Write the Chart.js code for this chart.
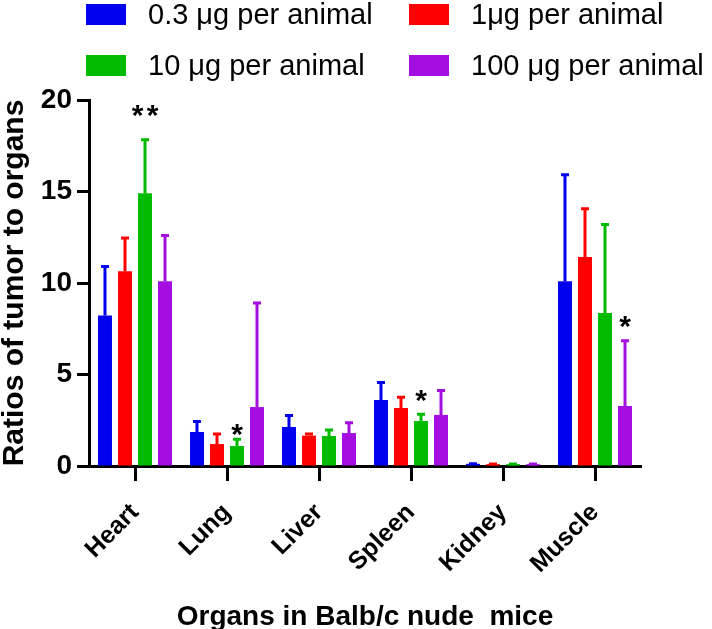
<!DOCTYPE html>
<html>
<head>
<meta charset="utf-8">
<script src="https://cdn.jsdelivr.net/npm/chart.js@4/dist/chart.umd.min.js"></script>
<style>
  body { margin: 0; background: #fff; }
  #wrap { position: relative; width: 712px; height: 629px; font-family: "Liberation Sans", Arial, sans-serif; }
  #chart { position: absolute; left: 0; top: 0; }
  .lg { position: absolute; display: flex; align-items: center; font-size: 29px; color: #000; white-space: nowrap; height: 21px; }
  .lg .box { width: 40px; height: 21px; margin-right: 22px; flex: none; }
</style>
</head>
<body>
<div id="wrap">
  <canvas id="chart" width="712" height="629"></canvas>
  <div class="lg" style="left:86px; top:4px;"><span class="box" style="background:#0000ee"></span>0.3 μg per animal</div>
  <div class="lg" style="left:409px; top:4px;"><span class="box" style="background:#ff0000"></span>1μg per animal</div>
  <div class="lg" style="left:86px; top:55px;"><span class="box" style="background:#00bb00"></span>10 μg per animal</div>
  <div class="lg" style="left:409px; top:55px;"><span class="box" style="background:#a50ee0"></span>100 μg per animal</div>
</div>
<script>
// ─── Data ────────────────────────────────────────────────────────────────────
const organs = ["Heart", "Lung", "Liver", "Spleen", "Kidney", "Muscle"];
const seriesNames = ["0.3 μg per animal", "1μg per animal", "10 μg per animal", "100 μg per animal"];

const dose03    = [8.23, 1.86, 2.13, 3.60, 0.12, 10.10];
const dose03Err = [2.70, 0.60, 0.66, 0.99, 0.03, 5.84];
const dose1     = [10.64, 1.20, 1.66, 3.17, 0.10, 11.42];
const dose1Err  = [1.84, 0.57, 0.11, 0.62, 0.03, 2.66];
const dose10    = [14.90, 1.09, 1.64, 2.46, 0.10, 8.36];
const dose10Err = [2.95, 0.40, 0.36, 0.40, 0.03, 4.86];
const dose100   = [10.09, 3.22, 1.80, 2.79, 0.10, 3.28];
const dose100Err= [2.53, 5.71, 0.59, 1.36, 0.03, 3.59];

// significance marks: organ index, series index, text, y level of mark
const sigOrgan  = [0, 1, 3, 5];
const sigSeries = [2, 2, 2, 3];
const sigText   = ["**", "*", "*", "*"];
const sigLevel  = [19.56, 2.13, 3.99, 8.03];

const yTicks = [0, 5, 10, 15, 20];

const colors = ["#0000ee", "#ff0000", "#00bb00", "#a50ee0"];
const values = [dose03, dose1, dose10, dose100];
const errors = [dose03Err, dose1Err, dose10Err, dose100Err];

// ─── Plugins ─────────────────────────────────────────────────────────────────
const errorBars = {
  id: "errorBars",
  afterDatasetsDraw(chart) {
    const ctx = chart.ctx;
    const y = chart.scales.y;
    chart.data.datasets.forEach((ds, di) => {
      const meta = chart.getDatasetMeta(di);
      meta.data.forEach((bar, i) => {
        const top = y.getPixelForValue(ds.data[i] + ds.errors[i]);
        ctx.save();
        ctx.strokeStyle = ds.backgroundColor;
        ctx.lineWidth = 3;
        ctx.beginPath();
        ctx.moveTo(bar.x, bar.y);
        ctx.lineTo(bar.x, top);
        ctx.moveTo(bar.x - 4, top + 0.5);
        ctx.lineTo(bar.x + 4, top + 0.5);
        ctx.stroke();
        ctx.restore();
      });
    });
  }
};

const sigMarks = {
  id: "sigMarks",
  afterDatasetsDraw(chart) {
    const ctx = chart.ctx;
    const y = chart.scales.y;
    const size = 30;
    ctx.save();
    ctx.fillStyle = "#000";
    ctx.font = "bold " + size + "px 'Liberation Sans', Arial";
    ctx.textAlign = "center";
    ctx.textBaseline = "alphabetic";
    sigText.forEach((t, k) => {
      const bar = chart.getDatasetMeta(sigSeries[k]).data[sigOrgan[k]];
      const cy = y.getPixelForValue(sigLevel[k]);
      const n = t.length;
      for (let s = 0; s < n; s++) {
        const cx = bar.x + (s - (n - 1) / 2) * 15;
        ctx.fillText("*", cx, cy + size * 0.57);
      }
    });
    ctx.restore();
  }
};

// ─── Chart ───────────────────────────────────────────────────────────────────
new Chart(document.getElementById("chart"), {
  type: "bar",
  data: {
    labels: organs,
    datasets: values.map((v, i) => ({
      label: seriesNames[i],
      data: v,
      errors: errors[i],
      backgroundColor: colors[i],
      borderWidth: 0,
      categoryPercentage: 0.87,
      barPercentage: 0.7
    }))
  },
  options: {
    responsive: false,
    animation: false,
    layout: { padding: { top: 100, right: 71, left: 0, bottom: 0 } },
    plugins: { legend: { display: false }, tooltip: { enabled: false } },
    scales: {
      x: {
        afterFit: s => { s.height = 163; },
        border: { color: "#000", width: 3 },
        grid: { display: true, drawOnChartArea: false, offset: false, tickLength: 15, tickWidth: 3, tickColor: "#000" },
        ticks: { color: "#000", font: { family: "'Liberation Sans', Arial", size: 25, weight: "bold" },
                 minRotation: 45, maxRotation: 45, padding: 17 },
        title: { display: true, text: "Organs in Balb/c nude  mice", color: "#000",
                 font: { family: "'Liberation Sans', Arial", size: 28, weight: "bold", lineHeight: 0.86 },
                 padding: { top: 0, bottom: 0 } }
      },
      y: {
        min: 0, max: 20,
        afterFit: s => { s.width = 89; },
        afterBuildTicks: s => { s.ticks = yTicks.map(v => ({ value: v })); },
        border: { color: "#000", width: 3 },
        grid: { display: true, drawOnChartArea: false, tickLength: 12, tickWidth: 3, tickColor: "#000" },
        ticks: { color: "#000", font: { family: "'Liberation Sans', Arial", size: 28, weight: "bold" }, padding: 5 },
        title: { display: true, text: "Ratios of tumor to organs", color: "#000",
                 font: { family: "'Liberation Sans', Arial", size: 30, weight: "bold", lineHeight: 1 },
                 padding: { top: 0, bottom: 0 } }
      }
    }
  },
  plugins: [errorBars, sigMarks]
});
</script>
</body>
</html>
